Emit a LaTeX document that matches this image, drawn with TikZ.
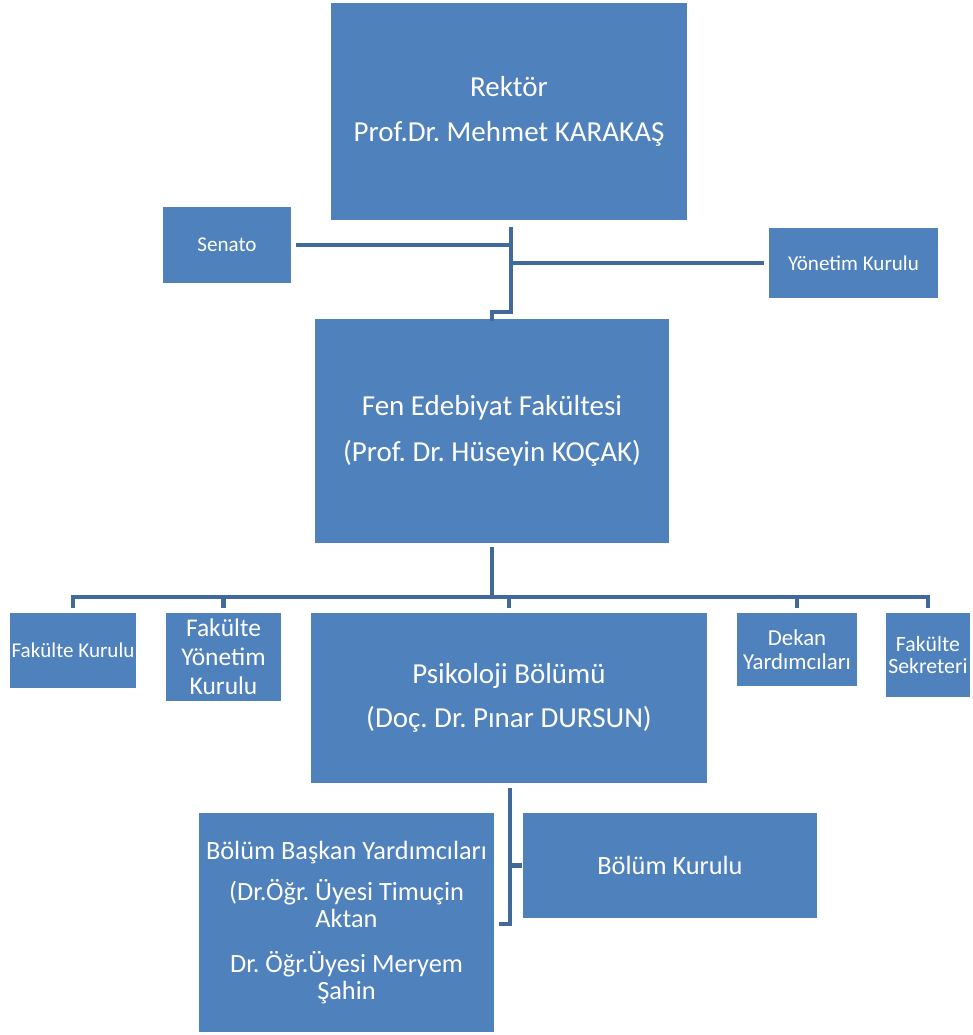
\documentclass[tikz,border=0pt]{standalone}
\usepackage{fontspec}
\setmainfont{Carlito}
\frenchspacing
\usetikzlibrary{calc}
\definecolor{boxblue}{HTML}{4F81BD}
\definecolor{lineblue}{HTML}{41699C}
\tikzset{
  unit/.style 2 args={fill=boxblue, text=white, inner sep=0pt, align=center,
    minimum width=#1*0.02cm, minimum height=#2*0.02cm},
  link/.style={draw=lineblue, line width=2.3pt, line cap=rect}
}
\begin{document}
\begin{tikzpicture}[x=0.02cm, y=-0.02cm]
      \useasboundingbox (0,0) rectangle (973,1035);
      \node[unit={356}{217}, font=\fontsize{16.5}{26}\selectfont] (rektor) at (509,111.5) {Rektör\\ Prof.Dr. Mehmet KARAKAŞ};
      \node[unit={128}{76}, font=\fontsize{12}{14}\selectfont] (senato) at (227,245) {Senato};
      \node[unit={169}{70}, font=\fontsize{12}{14}\selectfont] (yonetim) at (853.5,263) {Yönetim Kurulu};
      \node[unit={354}{224}, font=\fontsize{16.5}{26}\selectfont] (fen) at (492,431) {Fen Edebiyat Fakültesi\\ (Prof. Dr. Hüseyin KOÇAK)};
      \node[unit={126}{75}, font=\fontsize{12}{14}\selectfont] (fk) at (73,650.5) {Fakülte Kurulu};
      \node[unit={115}{88}, font=\fontsize{14.5}{16.5}\selectfont] (fyk) at (223.5,657) {Fakülte\\ Yönetim\\ Kurulu};
      \node[unit={396}{170}, font=\fontsize{16.5}{25}\selectfont] (psi) at (509,698) {Psikoloji Bölümü\\ (Doç. Dr. Pınar DURSUN)};
      \node[unit={120}{73}, font=\fontsize{13}{13.6}\selectfont] (dekan) at (797,649.5) {Dekan\\ Yardımcıları};
      \node[unit={84}{84}, font=\fontsize{12.4}{12}\selectfont] (sekr) at (928,655) {Fakülte\\ Sekreteri};
      \node[unit={295}{219}, font=\fontsize{15}{15.4}\selectfont] (bby) at (346.5,922.5) {Bölüm Başkan Yardımcıları\\[8pt] (Dr.Öğr. Üyesi Timuçin\\ Aktan\\[10pt] Dr. Öğr.Üyesi Meryem\\ Şahin};
      \node[unit={294}{105}, font=\fontsize{15}{18}\selectfont] (bk) at (670,865.5) {Bölüm Kurulu};
      \coordinate (rtop) at (511,229);
      \coordinate (rbend) at (511,312);
      \draw[link] (rtop) -- (rbend) -- (rbend -| fen.north) -- (fen.north);
      \draw[link] ($(senato.east)+(7,0)$) -- (senato.east -| rtop);
      \draw[link] (rtop |- yonetim.west) -- ($(yonetim.west)+(-7,0)$);
      \coordinate (fbar) at (492,597);
      \draw[link] ($(fen.south)+(0,6)$) -- (fbar);
      \draw[link] (fk.north |- fbar) -- (sekr.north |- fbar);
      \foreach \n in {fk,fyk,psi,dekan,sekr}
        \draw[link] (\n.north |- fbar) -- ($(\n.north)+(0,-7)$);
      \coordinate (ptop) at (510,790);
      \coordinate (pbot) at (510,924);
      \draw[link] (ptop) -- (pbot) -- ++(-9,0);
      \draw[link] (ptop |- bk.west) -- ++(10,0);
\end{tikzpicture}
\end{document}
